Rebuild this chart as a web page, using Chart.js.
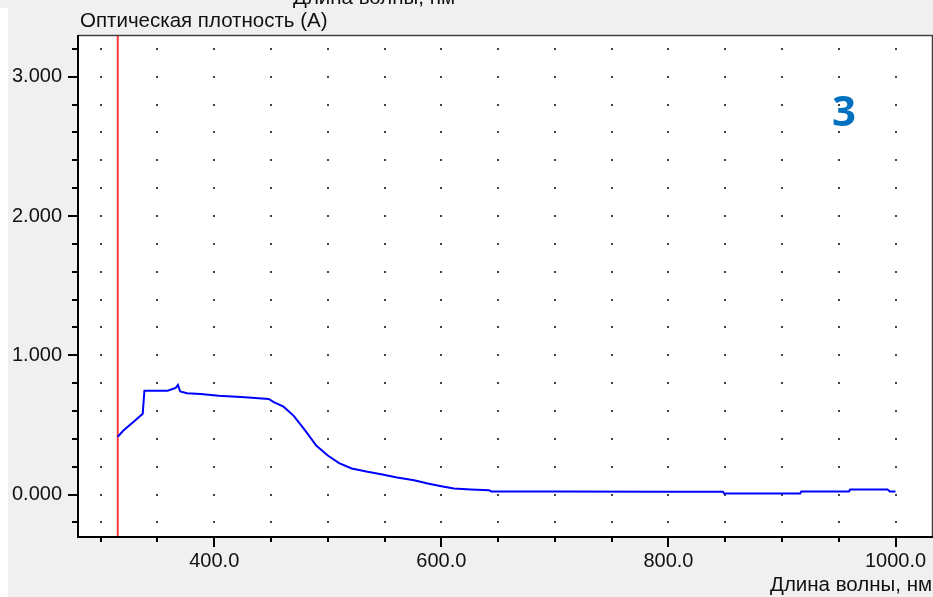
<!DOCTYPE html>
<html>
<head>
<meta charset="utf-8">
<script src="https://cdn.jsdelivr.net/npm/chart.js@4.4.0/dist/chart.umd.min.js"></script>
<style>
  html,body{margin:0;padding:0;}
  body{width:933px;height:597px;background:#f0f0f0;overflow:hidden;position:relative;font-family:"Liberation Sans",Arial,sans-serif;}
  #strip{position:absolute;left:0;top:8px;width:8px;bottom:0;background:#ffffff;}
  #wrap{position:absolute;left:0;top:0;width:933px;height:597px;}
  .txt{position:absolute;font-size:20.5px;line-height:20px;color:#111;white-space:nowrap;}
  #big3{position:absolute;font-family:"Open Sans",sans-serif;font-weight:700;font-size:42px;line-height:42px;color:#0070c0;}
</style>
</head>
<body>
<div id="strip"></div>
<div id="wrap"><canvas id="c" width="933" height="597"></canvas></div>
<div class="txt" style="left:293px;top:-13px;">Длина волны, нм</div>
<div class="txt" style="left:80px;top:10px;">Оптическая плотность (A)</div>
<div class="txt" style="left:770px;top:574px;">Длина волны, нм</div>
<div id="big3" style="left:832px;top:89px;">3</div>
<script>
// ---- data ----
const wavelengths = [315, 320, 330, 337, 338.5, 359, 366, 368, 370, 376, 388, 404, 427, 448, 452, 461, 470, 480, 490, 500, 510, 521, 535, 547, 561, 576, 588, 600, 611, 626, 642, 644, 700, 800, 848, 849, 916, 917, 959, 960, 993, 995, 1000];
const absorbance  = [0.415, 0.46, 0.53, 0.58, 0.746, 0.746, 0.765, 0.787, 0.74, 0.727, 0.722, 0.710, 0.698, 0.686, 0.665, 0.631, 0.565, 0.46, 0.35, 0.28, 0.225, 0.187, 0.163, 0.146, 0.122, 0.103, 0.079, 0.060, 0.043, 0.036, 0.031, 0.022, 0.021, 0.020, 0.020, 0.007, 0.007, 0.022, 0.022, 0.036, 0.036, 0.022, 0.022];
const markerWavelength = 315;
const xMin = 280, xMax = 1033, xStep = 50, xLabelEvery = 200;
const yMin = -0.305, yMax = 3.3, yStep = 0.2, yLabelEvery = 1;
const dotXRange = [300, 1000];
const dotYRange = [-0.2, 3.2];

const spectrum = wavelengths.map((w, i) => ({x: w, y: absorbance[i]}));
const marker = [{x: markerWavelength, y: yMin}, {x: markerWavelength, y: yMax}];

const isMult = (v, m) => Math.abs(v / m - Math.round(v / m)) < 1e-6;

const framePlugin = {
  id: 'frame',
  beforeDatasetsDraw(chart) {
    const {ctx, chartArea: a, scales: {x, y}} = chart;
    ctx.save();
    ctx.fillStyle = '#ffffff';
    ctx.fillRect(a.left, a.top, a.right - a.left, a.bottom - a.top);
    // dot grid
    ctx.fillStyle = '#444444';
    const xs = x.ticks.map(t => t.value).filter(v => v >= dotXRange[0] - 1e-6 && v <= dotXRange[1] + 1e-6);
    const ys = y.ticks.map(t => t.value).filter(v => v >= dotYRange[0] - 1e-6 && v <= dotYRange[1] + 1e-6);
    xs.forEach(xv => {
      const px = Math.round(x.getPixelForValue(xv));
      ys.forEach(yv => {
        const py = Math.round(y.getPixelForValue(yv));
        ctx.fillRect(px - 1, py - 1, 2, 2);
      });
    });
    ctx.restore();
  },
  afterDatasetsDraw(chart) {
    const {ctx, chartArea: a, scales: {x, y}} = chart;
    ctx.save();
    // top and right border
    ctx.strokeStyle = '#404040';
    ctx.lineWidth = 1.5;
    ctx.beginPath();
    ctx.moveTo(a.left, a.top + 0.5);
    ctx.lineTo(a.right - 0.5, a.top + 0.5);
    ctx.lineTo(a.right - 0.5, a.bottom);
    ctx.stroke();
    // left and bottom axes
    ctx.strokeStyle = '#000000';
    ctx.lineWidth = 2;
    ctx.beginPath();
    ctx.moveTo(a.left, a.top);
    ctx.lineTo(a.left, a.bottom);
    ctx.lineTo(a.right, a.bottom);
    ctx.stroke();
    // tick marks
    ctx.lineWidth = 2;
    ctx.beginPath();
    x.ticks.forEach(t => {
      if (t.value < dotXRange[0] - 1e-6 || t.value > dotXRange[1] + 1e-6) return;
      const px = Math.round(x.getPixelForValue(t.value));
      const len = isMult(t.value, xLabelEvery) ? 10 : 5;
      ctx.moveTo(px, a.bottom);
      ctx.lineTo(px, a.bottom + len);
    });
    y.ticks.forEach(t => {
      if (t.value < dotYRange[0] - 1e-6 || t.value > dotYRange[1] + 1e-6) return;
      const py = Math.round(y.getPixelForValue(t.value));
      const len = isMult(t.value, yLabelEvery) ? 10 : 6;
      ctx.moveTo(a.left, py);
      ctx.lineTo(a.left - len, py);
    });
    ctx.stroke();
    ctx.restore();
  }
};

new Chart(document.getElementById('c'), {
  type: 'line',
  data: {
    datasets: [
      {data: marker, borderColor: '#ff3b3b', borderWidth: 2, pointRadius: 0, tension: 0, order: 2},
      {data: spectrum, borderColor: '#0000ff', borderWidth: 2, pointRadius: 0, tension: 0, order: 1}
    ]
  },
  options: {
    responsive: false,
    animation: false,
    events: [],
    layout: {padding: {left: 8, top: 35, right: 0, bottom: 0}},
    plugins: {legend: {display: false}, tooltip: {enabled: false}, title: {display: false}},
    scales: {
      x: {
        type: 'linear', min: xMin, max: xMax,
        grid: {display: false, drawTicks: false},
        border: {display: false},
        afterFit(s) { s.height = 60; s.paddingRight = 0; },
        ticks: {
          stepSize: xStep, includeBounds: false, autoSkip: false, maxRotation: 0,
          padding: 12, color: '#111',
          font: {family: '"Liberation Sans", Arial, sans-serif', size: 20},
          callback: v => isMult(v, xLabelEvery) ? v.toFixed(1) : ''
        }
      },
      y: {
        type: 'linear', min: yMin, max: yMax,
        grid: {display: false, drawTicks: false},
        border: {display: false},
        afterFit(s) { s.width = 70; },
        ticks: {
          stepSize: yStep, includeBounds: false, autoSkip: false,
          padding: 16, color: '#111',
          font: {family: '"Liberation Sans", Arial, sans-serif', size: 20},
          callback: v => isMult(v, yLabelEvery) ? Math.round(v).toFixed(3) : ''
        }
      }
    }
  },
  plugins: [framePlugin]
});
</script>
</body>
</html>
